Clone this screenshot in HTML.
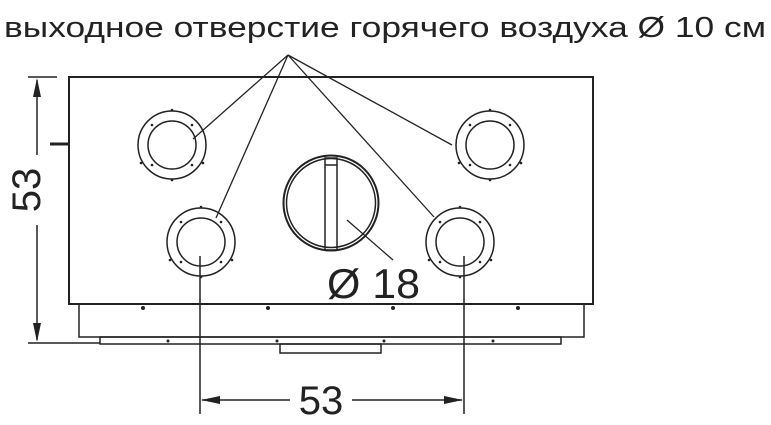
<!DOCTYPE html>
<html><head><meta charset="utf-8"><style>
body{margin:0;background:#fff;width:771px;height:425px;overflow:hidden}
svg{display:block}
text{font-family:"Liberation Sans",sans-serif;fill:#222}
</style></head><body>
<svg width="771" height="425" viewBox="0 0 771 425" stroke="#222" fill="none" stroke-width="1.5">
<defs>
<g id="fl">
<circle cx="0" cy="0" r="34"/><circle cx="0" cy="0" r="24"/>
<g fill="#222" stroke="none">
<circle cx="0" cy="-35" r="1.3"/><circle cx="0" cy="35" r="1.3"/>
<circle cx="-20" cy="-20" r="1.3"/><circle cx="20" cy="-20" r="1.3"/>
<circle cx="-20" cy="20" r="1.3"/><circle cx="20" cy="20" r="1.3"/>
<circle cx="-31" cy="18" r="1.3"/><circle cx="31" cy="18" r="1.3"/>
</g>
</g>
</defs>
<text x="4" y="37" font-size="28.5" stroke="none" textLength="762" lengthAdjust="spacingAndGlyphs">выходное отверстие горячего воздуха Ø 10 см</text>
<rect x="69" y="77" width="524" height="227" stroke-width="2"/>
<line x1="50" y1="144" x2="69" y2="144" stroke-width="3"/>
<rect x="79" y="304" width="505" height="33"/>
<rect x="100" y="337" width="461" height="7"/>
<rect x="280" y="344" width="101" height="9"/>
<g fill="#222" stroke="none">
<circle cx="143" cy="308" r="2"/><circle cx="268" cy="308" r="2"/><circle cx="393" cy="308" r="2"/><circle cx="518" cy="308" r="2"/>
<circle cx="168" cy="341" r="1.5"/><circle cx="277" cy="341" r="1.5"/><circle cx="384" cy="341" r="1.5"/><circle cx="493" cy="341" r="1.5"/>
</g>
<use href="#fl" x="172" y="145"/>
<use href="#fl" x="201" y="242"/>
<use href="#fl" x="490" y="145"/>
<use href="#fl" x="460" y="242"/>
<circle cx="331" cy="203" r="47.5" stroke-width="2"/>
<circle cx="331" cy="203" r="44.5"/>
<rect x="325" y="158" width="12" height="92"/>
<line x1="325" y1="165" x2="337" y2="165"/>
<g stroke-width="1.3">
<line x1="288" y1="55" x2="193" y2="139"/>
<line x1="288" y1="55" x2="216" y2="218"/>
<line x1="288" y1="55" x2="452" y2="145"/>
<line x1="288" y1="55" x2="434" y2="217"/>
<line x1="347" y1="220" x2="393" y2="260"/>
</g>
<text x="327" y="298" font-size="42" stroke="none" textLength="93" lengthAdjust="spacingAndGlyphs">Ø 18</text>
<line x1="28" y1="77" x2="57" y2="77"/>
<line x1="28" y1="343" x2="100" y2="343"/>
<line x1="37" y1="80" x2="37" y2="155"/>
<line x1="37" y1="225" x2="37" y2="340"/>
<path d="M37 78 L33 97 L41 97 Z M37 342 L33 323 L41 323 Z" fill="#222" stroke="none"/>
<text transform="translate(40,190) rotate(-90)" font-size="40" text-anchor="middle" stroke="none">53</text>
<line x1="200" y1="256" x2="200" y2="414"/>
<line x1="464" y1="256" x2="464" y2="414"/>
<line x1="202" y1="400" x2="290" y2="400"/>
<line x1="352" y1="400" x2="462" y2="400"/>
<path d="M201 400 L220 396 L220 404 Z M463 400 L444 396 L444 404 Z" fill="#222" stroke="none"/>
<text x="321" y="414" font-size="40" text-anchor="middle" stroke="none">53</text>
</svg>
</body></html>
